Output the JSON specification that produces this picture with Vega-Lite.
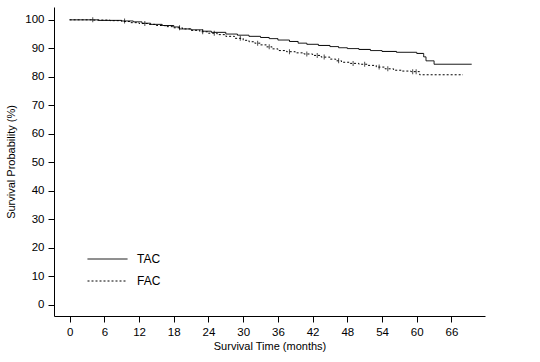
{
  "$schema": "https://vega.github.io/schema/vega-lite/v6.json",
  "width": 431,
  "height": 309,
  "autosize": "none",
  "padding": {"left": 54, "top": 7, "right": 55, "bottom": 46},
  "background": "white",
  "config": {
    "view": {"stroke": null},
    "font": "Liberation Sans",
    "axis": {
      "grid": false,
      "domainColor": "black",
      "tickColor": "black",
      "labelColor": "black",
      "titleColor": "black",
      "tickSize": 6,
      "labelFontSize": 11.5,
      "titleFontSize": 11,
      "titleFontWeight": "normal",
      "labelOverlap": false,
      "labelFont": "Liberation Sans",
      "titleFont": "Liberation Sans"
    }
  },
  "datasets": {
    "curves": [
      {"arm": "TAC", "month": 0, "surv": 100},
      {"arm": "TAC", "month": 5, "surv": 99.8},
      {"arm": "TAC", "month": 9, "surv": 99.6},
      {"arm": "TAC", "month": 11, "surv": 99.3},
      {"arm": "TAC", "month": 12.5, "surv": 98.8},
      {"arm": "TAC", "month": 14, "surv": 98.4},
      {"arm": "TAC", "month": 16, "surv": 98.0},
      {"arm": "TAC", "month": 18, "surv": 97.5},
      {"arm": "TAC", "month": 19, "surv": 96.8},
      {"arm": "TAC", "month": 21, "surv": 96.5},
      {"arm": "TAC", "month": 23, "surv": 96.0},
      {"arm": "TAC", "month": 24.5, "surv": 95.6},
      {"arm": "TAC", "month": 27, "surv": 95.0},
      {"arm": "TAC", "month": 29, "surv": 94.6},
      {"arm": "TAC", "month": 31, "surv": 94.2},
      {"arm": "TAC", "month": 33, "surv": 93.8},
      {"arm": "TAC", "month": 34.5, "surv": 93.4},
      {"arm": "TAC", "month": 36, "surv": 92.9},
      {"arm": "TAC", "month": 38, "surv": 92.4},
      {"arm": "TAC", "month": 39.5, "surv": 91.8},
      {"arm": "TAC", "month": 41, "surv": 91.4},
      {"arm": "TAC", "month": 43, "surv": 91.0},
      {"arm": "TAC", "month": 45, "surv": 90.6},
      {"arm": "TAC", "month": 46.5, "surv": 90.2},
      {"arm": "TAC", "month": 48, "surv": 89.9},
      {"arm": "TAC", "month": 50, "surv": 89.6},
      {"arm": "TAC", "month": 52, "surv": 89.2},
      {"arm": "TAC", "month": 54, "surv": 88.9},
      {"arm": "TAC", "month": 56.5, "surv": 88.6},
      {"arm": "TAC", "month": 60, "surv": 88.2},
      {"arm": "TAC", "month": 61.2, "surv": 87.0},
      {"arm": "TAC", "month": 61.6, "surv": 85.6},
      {"arm": "TAC", "month": 63.0, "surv": 84.4},
      {"arm": "TAC", "month": 69.5, "surv": 84.4},
      {"arm": "FAC", "month": 0, "surv": 100},
      {"arm": "FAC", "month": 4, "surv": 99.9},
      {"arm": "FAC", "month": 7, "surv": 99.7},
      {"arm": "FAC", "month": 9, "surv": 99.4},
      {"arm": "FAC", "month": 10.5, "surv": 99.0},
      {"arm": "FAC", "month": 12, "surv": 98.7},
      {"arm": "FAC", "month": 13.5, "surv": 98.4},
      {"arm": "FAC", "month": 15, "surv": 98.0},
      {"arm": "FAC", "month": 16.5, "surv": 97.6},
      {"arm": "FAC", "month": 18, "surv": 97.2},
      {"arm": "FAC", "month": 19.5, "surv": 96.8},
      {"arm": "FAC", "month": 21, "surv": 96.3},
      {"arm": "FAC", "month": 22.5, "surv": 95.8},
      {"arm": "FAC", "month": 24, "surv": 95.3},
      {"arm": "FAC", "month": 25.5, "surv": 94.8},
      {"arm": "FAC", "month": 27, "surv": 94.2},
      {"arm": "FAC", "month": 28.5, "surv": 93.5},
      {"arm": "FAC", "month": 30, "surv": 92.8},
      {"arm": "FAC", "month": 31, "surv": 92.3},
      {"arm": "FAC", "month": 32, "surv": 91.8},
      {"arm": "FAC", "month": 33, "surv": 91.2},
      {"arm": "FAC", "month": 34, "surv": 90.5},
      {"arm": "FAC", "month": 35, "surv": 89.8},
      {"arm": "FAC", "month": 36, "surv": 89.2},
      {"arm": "FAC", "month": 37.5, "surv": 88.8},
      {"arm": "FAC", "month": 39, "surv": 88.4},
      {"arm": "FAC", "month": 40.5, "surv": 88.0},
      {"arm": "FAC", "month": 42, "surv": 87.5},
      {"arm": "FAC", "month": 43.5, "surv": 86.9},
      {"arm": "FAC", "month": 45, "surv": 86.2},
      {"arm": "FAC", "month": 46, "surv": 85.6},
      {"arm": "FAC", "month": 47, "surv": 85.1},
      {"arm": "FAC", "month": 48.5, "surv": 84.7},
      {"arm": "FAC", "month": 50, "surv": 84.4},
      {"arm": "FAC", "month": 51.5, "surv": 84.0},
      {"arm": "FAC", "month": 53, "surv": 83.4},
      {"arm": "FAC", "month": 54.5, "surv": 82.8},
      {"arm": "FAC", "month": 56, "surv": 82.3},
      {"arm": "FAC", "month": 57.5, "surv": 82.0},
      {"arm": "FAC", "month": 59, "surv": 81.8},
      {"arm": "FAC", "month": 60.5, "surv": 80.7},
      {"arm": "FAC", "month": 68, "surv": 80.7}
    ],
    "censor": [
      {"arm": "TAC", "month": 4, "surv": 100},
      {"arm": "TAC", "month": 9.5, "surv": 99.6},
      {"arm": "FAC", "month": 13, "surv": 98.7},
      {"arm": "FAC", "month": 19, "surv": 97.2},
      {"arm": "FAC", "month": 23, "surv": 95.8},
      {"arm": "FAC", "month": 25, "surv": 95.3},
      {"arm": "FAC", "month": 29.5, "surv": 93.5},
      {"arm": "FAC", "month": 32.5, "surv": 91.8},
      {"arm": "FAC", "month": 34.5, "surv": 90.5},
      {"arm": "FAC", "month": 38, "surv": 88.8},
      {"arm": "FAC", "month": 41, "surv": 88.0},
      {"arm": "FAC", "month": 42.8, "surv": 87.5},
      {"arm": "FAC", "month": 44, "surv": 86.9},
      {"arm": "FAC", "month": 46.5, "surv": 85.6},
      {"arm": "FAC", "month": 49, "surv": 84.7},
      {"arm": "FAC", "month": 51, "surv": 84.4},
      {"arm": "FAC", "month": 53.5, "surv": 83.4},
      {"arm": "FAC", "month": 55, "surv": 82.8},
      {"arm": "FAC", "month": 59.3, "surv": 81.8},
      {"arm": "FAC", "month": 59.9, "surv": 81.8}
    ]
  },
  "encoding": {
    "x": {
      "field": "month", "type": "quantitative",
      "scale": {"domain": [-2.7, 71.8], "nice": false, "zero": false},
      "axis": {"title": "Survival Time (months)", "values": [0, 6, 12, 18, 24, 30, 36, 42, 48, 54, 60, 66], "labelOverlap": false, "labelPadding": 4, "titlePadding": 3}
    },
    "y": {
      "field": "surv", "type": "quantitative",
      "scale": {"domain": [-4, 104.5], "nice": false, "zero": false},
      "axis": {"title": "Survival Probability (%)", "values": [0, 10, 20, 30, 40, 50, 60, 70, 80, 90, 100], "labelOverlap": false, "labelPadding": 4, "titlePadding": 8}
    }
  },
  "layer": [
    {
      "data": {"name": "curves"},
      "mark": {"type": "line", "interpolate": "step-after", "color": "black", "strokeWidth": 1},
      "encoding": {
        "strokeDash": {
          "field": "arm", "type": "nominal",
          "scale": {"domain": ["TAC", "FAC"], "range": [[1, 0], [2, 2]]},
          "legend": {
            "title": null, "orient": "none", "legendX": 33, "legendY": 245,
            "symbolType": "stroke", "symbolSize": 1600, "symbolStrokeWidth": 1,
            "symbolStrokeColor": "black", "labelFontSize": 12, "labelColor": "black",
            "labelOffset": 9, "rowPadding": 8, "clipHeight": 14, "labelFont": "Liberation Sans"
          }
        }
      }
    },
    {
      "data": {"name": "censor"},
      "mark": {"type": "tick", "orient": "vertical", "color": "black", "size": 5, "thickness": 1}
    }
  ]
}
